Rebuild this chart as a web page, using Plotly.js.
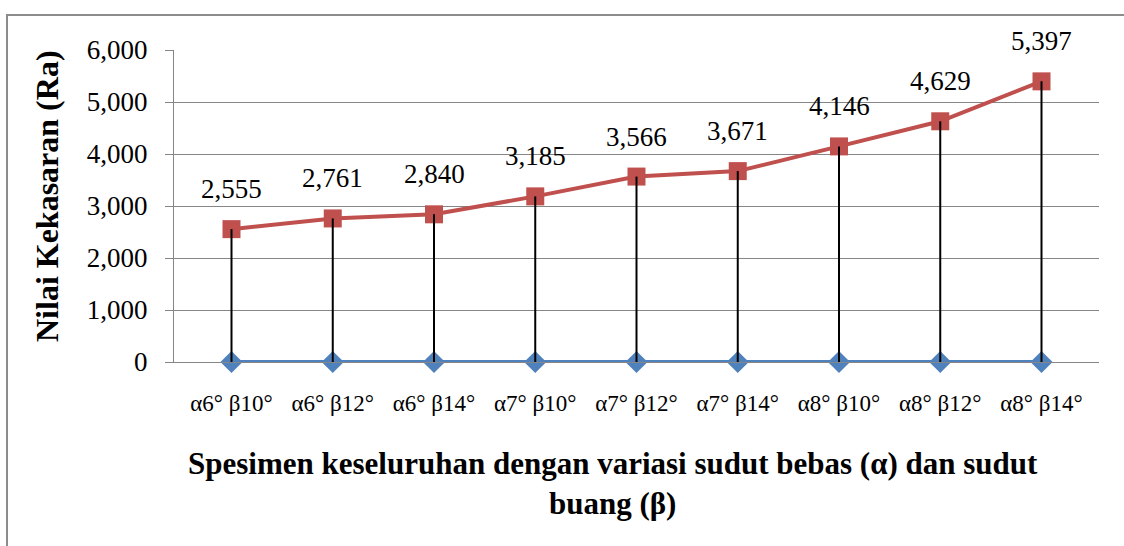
<!DOCTYPE html>
<html>
<head>
<meta charset="utf-8">
<script src="https://cdn.plot.ly/plotly-3.0.1.min.js"></script>
<style>
html,body{margin:0;padding:0;background:#fff;}
#chart{width:1124px;height:546px;}
</style>
</head>
<body>
<div id="chart"></div>
<script>
const categories = ["α6° β10°","α6° β12°","α6° β14°","α7° β10°","α7° β12°","α7° β14°","α8° β10°","α8° β12°","α8° β14°"];
const redValues = [2555, 2761, 2840, 3185, 3566, 3671, 4146, 4629, 5397];
const blueValues = [0, 0, 0, 0, 0, 0, 0, 0, 0];
const yTitle = "Nilai Kekasaran (Ra)";
const xTitle = "Spesimen keseluruhan dengan variasi sudut bebas (α) dan sudut<br>buang (β)";

const serif = "Liberation Serif";

// drop lines built from the data arrays
const dropX = [], dropY = [];
categories.forEach((c, i) => { dropX.push(c, c, null); dropY.push(redValues[i], blueValues[i], null); });

const fmt = v => v.toLocaleString('en-US');

const traces = [
  {x: categories, y: blueValues, type: 'scatter', mode: 'lines+markers',
   line: {color: '#4F81BD', width: 4}, marker: {symbol: 'diamond', size: 17, color: '#4F81BD'},
   cliponaxis: false, hoverinfo: 'skip'},
  {x: categories, y: redValues, type: 'scatter', mode: 'lines+markers',
   line: {color: '#C0504D', width: 4}, marker: {symbol: 'square', size: 18, color: '#C0504D'},
   cliponaxis: false, hoverinfo: 'skip'},
  {x: dropX, y: dropY, type: 'scatter', mode: 'lines',
   line: {color: '#000000', width: 2}, cliponaxis: false, hoverinfo: 'skip', connectgaps: false}
];

const annotations = categories.map((c, i) => ({
  x: c, y: redValues[i], xref: 'x', yref: 'y', text: fmt(redValues[i]),
  showarrow: false, yshift: 40, yanchor: 'middle',
  font: {family: serif, size: 27, color: '#000'}
}));
annotations.push({
  xref: 'paper', yref: 'paper', x: (47 - 174) / 925, y: (362 - 196) / 312,
  text: '<b>' + yTitle + '</b>', textangle: -90, showarrow: false, xanchor: 'center', yanchor: 'middle',
  font: {family: serif, size: 32, color: '#000'}
});
annotations.push({
  xref: 'paper', yref: 'paper', x: (613 - 174) / 925, y: (362 - 483) / 312,
  text: '<b>' + xTitle + '</b>', showarrow: false, xanchor: 'center', yanchor: 'middle',
  font: {family: serif, size: 31, color: '#000'}
});

const layout = {
  width: 1124, height: 546,
  margin: {l: 174, r: 25, t: 50, b: 184},
  paper_bgcolor: '#fff', plot_bgcolor: '#fff',
  showlegend: false,
  font: {family: serif},
  xaxis: {type: 'category', categoryarray: categories, showline: true, linecolor: '#868686', linewidth: 1,
          showgrid: false, zeroline: false, ticks: '', ticklabelstandoff: 20,
          tickfont: {family: serif, size: 23, color: '#000'}, fixedrange: true},
  yaxis: {range: [0, 6000], dtick: 1000, tickformat: ',d', showline: true, linecolor: '#868686', linewidth: 1,
          gridcolor: '#868686', gridwidth: 1, zeroline: false, ticks: 'outside', ticklen: 8, tickcolor: '#868686',
          ticklabelstandoff: 12, tickfont: {family: serif, size: 27, color: '#000'}, fixedrange: true},
  annotations: annotations,
  shapes: [{type: 'rect', xref: 'paper', yref: 'paper',
            x0: (7 - 174) / 925, x1: 1.2, y0: -1.5, y1: 1 + (50 - 15) / 312,
            line: {color: '#8c8c8c', width: 2}, fillcolor: 'rgba(0,0,0,0)', layer: 'below'}]
};

Plotly.newPlot('chart', traces, layout, {staticPlot: true, displayModeBar: false});
</script>
</body>
</html>
